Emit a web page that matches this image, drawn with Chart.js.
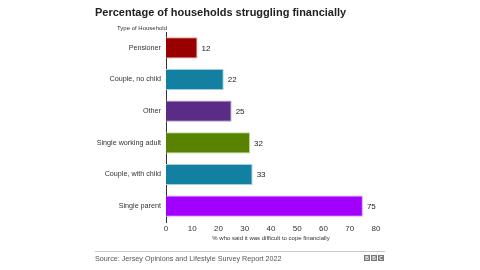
<!DOCTYPE html>
<html>
<head>
<meta charset="utf-8">
<script src="https://cdn.jsdelivr.net/npm/chart.js@4"></script>
<style>
  html, body { margin: 0; padding: 0; background: #fff; }
  #wrap { position: relative; width: 480px; height: 270px; overflow: hidden; font-family: "Liberation Sans", Arial, sans-serif; }
  #chart { position: absolute; left: 0; top: 0; }
  .txt { position: absolute; white-space: nowrap; }
  #title { left: 95px; top: 6px; font-size: 11px; font-weight: bold; color: #222; }
  #ytitle { left: 117px; top: 25px; font-size: 6px; color: #333; }
  #rule { position: absolute; left: 95px; top: 251px; width: 290px; height: 1px; background: #c8c8c8; }
  #source { left: 95px; top: 254px; font-size: 7.2px; color: #555; }
  #bbc { left: 364px; top: 255px; }
  #bbc span { display: inline-block; width: 6px; height: 6px; background: #777; color: #fff; font-size: 5px; font-weight: bold; line-height: 6px; text-align: center; margin-right: 1px; vertical-align: top; }
</style>
</head>
<body>
<div id="wrap">
  <canvas id="chart" width="480" height="270"></canvas>
  <div class="txt" id="title">Percentage of households struggling financially</div>
  <div class="txt" id="ytitle">Type of Household</div>
  <div id="rule"></div>
  <div class="txt" id="source">Source: Jersey Opinions and Lifestyle Survey Report 2022</div>
  <div class="txt" id="bbc"><span>B</span><span>B</span><span>C</span></div>
</div>
<script>
const categories = ["Pensioner", "Couple, no child", "Other", "Single working adult", "Couple, with child", "Single parent"];
const values = [12, 22, 25, 32, 33, 75];
const barColors = ["#990000", "#1380A1", "#5B2C86", "#588300", "#1380A1", "#A100FF"];
const borderColors = ["#e8a0a0", "#9fd0e0", "#b8a0d0", "#bcd890", "#9fd0e0", "#dca0ff"];
const xTicks = [0, 10, 20, 30, 40, 50, 60, 70, 80];

const valueLabels = {
  id: "valueLabels",
  afterDatasetsDraw(chart) {
    const ctx = chart.ctx;
    const meta = chart.getDatasetMeta(0);
    ctx.save();
    ctx.font = "8px 'Liberation Sans', Arial, sans-serif";
    ctx.fillStyle = "#222";
    ctx.textBaseline = "middle";
    meta.data.forEach((bar, i) => {
      ctx.fillText(String(values[i]), bar.x + 4, bar.y + 0.5);
    });
    ctx.restore();
  }
};

new Chart(document.getElementById("chart"), {
  type: "bar",
  data: {
    labels: categories,
    datasets: [{
      data: values,
      backgroundColor: barColors,
      borderColor: borderColors,
      borderWidth: 1,
      borderSkipped: "left",
      categoryPercentage: 1,
      barPercentage: 0.67
    }]
  },
  options: {
    indexAxis: "y",
    responsive: false,
    animation: false,
    layout: { padding: { left: 0, right: 104, top: 32, bottom: 28 } },
    plugins: {
      legend: { display: false },
      tooltip: { enabled: false }
    },
    scales: {
      x: {
        min: 0,
        max: 80,
        afterBuildTicks(scale) {
          scale.ticks = xTicks.map((v) => ({ value: v }));
        },
        afterFit(scale) { scale.height = 20; },
        grid: { display: false, drawTicks: false },
        border: { display: false },
        ticks: {
          padding: 2,
          color: "#333",
          font: { family: "'Liberation Sans', Arial, sans-serif", size: 8 }
        },
        title: {
          display: true,
          text: "% who said it was difficult to cope financially",
          color: "#333",
          padding: { top: 2, bottom: 0 },
          font: { family: "'Liberation Sans', Arial, sans-serif", size: 6 }
        }
      },
      y: {
        afterFit(scale) { scale.width = 166; },
        grid: { display: false, drawTicks: false },
        border: { display: true, color: "#333", width: 1 },
        ticks: {
          padding: 5,
          color: "#333",
          font: { family: "'Liberation Sans', Arial, sans-serif", size: 7.2 }
        }
      }
    }
  },
  plugins: [valueLabels]
});
</script>
</body>
</html>
